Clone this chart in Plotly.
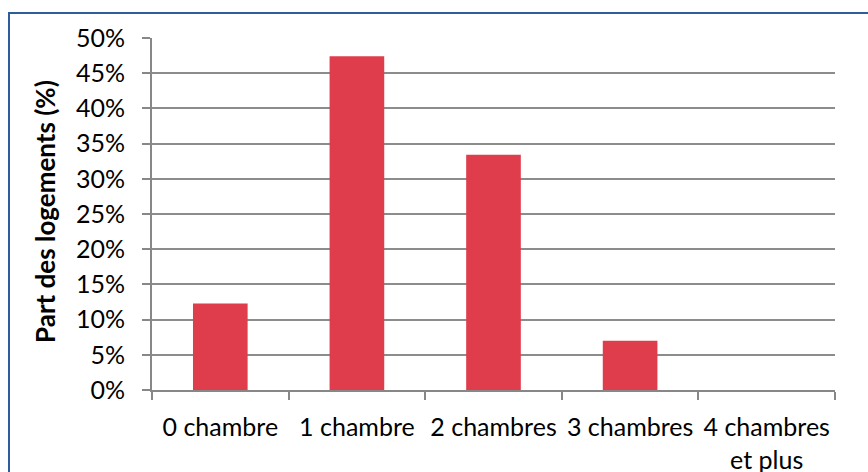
import plotly.graph_objects as go

categories = ["0 chambre", "1 chambre", "2 chambres", "3 chambres", "4 chambres<br>et plus"]
shares = [0.123, 0.474, 0.334, 0.070, 0.0]
y_ticks = [0, 0.05, 0.10, 0.15, 0.20, 0.25, 0.30, 0.35, 0.40, 0.45, 0.50]
y_tick_labels = ["0%", "5%", "10%", "15%", "20%", "25%", "30%", "35%", "40%", "45%", "50%"]

W, H = 868, 472
L, R, T, B = 152, 33, 38, 82
pw, ph = W - L - R, H - T - B

font_family = "Lato, 'Open Sans', sans-serif"
axis_grey = "#878787"
fs = 25

fig = go.Figure(
    go.Bar(
        x=categories,
        y=shares,
        marker=dict(color="#DF3C4C", line=dict(width=0)),
        width=0.4,
    )
)

fig.update_layout(
    width=W,
    height=H,
    margin=dict(l=L, r=R, t=T, b=B, autoexpand=False),
    paper_bgcolor="white",
    plot_bgcolor="white",
    showlegend=False,
    font=dict(family=font_family, size=fs, color="#000000"),
    xaxis=dict(
        type="category",
        automargin=False,
        showline=True,
        linecolor=axis_grey,
        linewidth=2,
        ticks="outside",
        tickson="boundaries",
        ticklen=8,
        tickwidth=2,
        tickcolor=axis_grey,
        tickangle=0,
        ticklabelstandoff=14,
        showgrid=False,
        tickfont=dict(size=fs),
    ),
    yaxis=dict(
        automargin=False,
        range=[0, 0.5],
        tickvals=y_ticks,
        ticktext=y_tick_labels,
        showline=True,
        linecolor=axis_grey,
        linewidth=2,
        ticks="outside",
        ticklen=8,
        tickwidth=2,
        tickcolor=axis_grey,
        ticklabelstandoff=12,
        showgrid=True,
        gridcolor="#8C8C8C",
        gridwidth=1.5,
        zeroline=False,
        tickfont=dict(size=fs),
    ),
)

# vertical axis title
fig.add_annotation(
    text="<b>Part des logements (%)</b>",
    textangle=-90,
    xref="paper",
    yref="paper",
    x=(45 - L) / pw,
    y=(H - B - 212) / ph,
    xanchor="center",
    yanchor="middle",
    showarrow=False,
    font=dict(family=font_family, size=26, color="#000000"),
)

# chart frame
fig.add_shape(
    type="rect",
    xref="paper",
    yref="paper",
    x0=(9 - L) / pw,
    x1=(W + 20 - L) / pw,
    y0=(H - B - (H + 20)) / ph,
    y1=(H - B - 13) / ph,
    line=dict(color="#2F5C9B", width=2),
    fillcolor="rgba(0,0,0,0)",
    layer="below",
)

fig.write_html("out.html")
